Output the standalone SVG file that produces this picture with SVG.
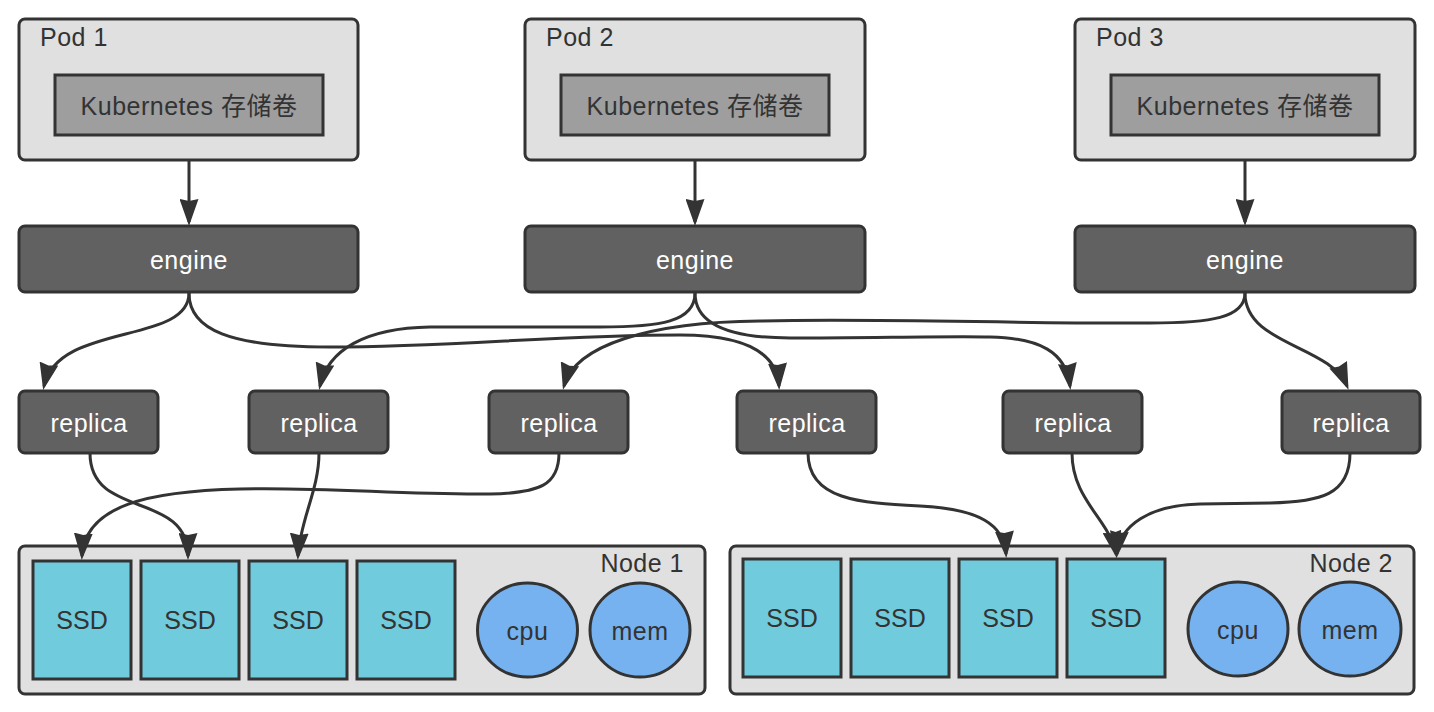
<svg xmlns="http://www.w3.org/2000/svg" width="1434" height="712" viewBox="0 0 1434 712">
<style>
text{font-family:"Liberation Sans","Noto Sans CJK SC",sans-serif;font-size:25px;letter-spacing:0.5px}
.pod{fill:#e0e0e0;stroke:#333;stroke-width:3}
.vol{fill:#9e9e9e;stroke:#333;stroke-width:3}
.dark{fill:#616161;stroke:#333;stroke-width:3}
.node{fill:#e0e0e0;stroke:#333;stroke-width:3}
.ssd{fill:#70cbdd;stroke:#333;stroke-width:3}
.res{fill:#75b2ef;stroke:#333;stroke-width:3}
.lbl{fill:#333}
.wt{fill:#fff;text-anchor:middle}
.ct{fill:#333;text-anchor:middle}
.tight{letter-spacing:0}
.edge{fill:none;stroke:#333;stroke-width:3;marker-end:url(#arr)}
</style>
<defs>
<marker id="arr" viewBox="0 0 27 19" markerWidth="27" markerHeight="19" refX="23" refY="9.5" markerUnits="userSpaceOnUse" orient="auto">
<path d="M0,0 L27,9.5 L0,19 L2,9.5 Z" fill="#333"/>
</marker>
</defs>
<rect width="1434" height="712" fill="#fff"/>

<g id="pod1"><rect class="pod" x="19" y="19" width="339" height="141" rx="6"/><text class="lbl" x="40" y="46">Pod 1</text></g>
<g id="vol1"><rect class="vol" x="55" y="75" width="268" height="60"/><text class="ct" x="189" y="115">Kubernetes 存储卷</text></g>
<g id="pod2"><rect class="pod" x="525" y="19" width="340" height="141" rx="6"/><text class="lbl" x="546" y="46">Pod 2</text></g>
<g id="vol2"><rect class="vol" x="561" y="75" width="268" height="60"/><text class="ct" x="695" y="115">Kubernetes 存储卷</text></g>
<g id="pod3"><rect class="pod" x="1075" y="19" width="340" height="141" rx="6"/><text class="lbl" x="1096" y="46">Pod 3</text></g>
<g id="vol3"><rect class="vol" x="1111" y="75" width="268" height="60"/><text class="ct" x="1245" y="115">Kubernetes 存储卷</text></g>

<g id="engine1"><rect class="dark" x="19" y="226" width="339" height="66" rx="6"/><text class="wt" x="189" y="269">engine</text></g>
<g id="engine2"><rect class="dark" x="525" y="226" width="340" height="66" rx="6"/><text class="wt" x="695" y="269">engine</text></g>
<g id="engine3"><rect class="dark" x="1075" y="226" width="340" height="66" rx="6"/><text class="wt" x="1245" y="269">engine</text></g>

<g id="replica1"><rect class="dark" x="19" y="391" width="139" height="62" rx="6"/><text class="wt" x="89" y="432">replica</text></g>
<g id="replica2"><rect class="dark" x="249" y="391" width="139" height="62" rx="6"/><text class="wt" x="319" y="432">replica</text></g>
<g id="replica3"><rect class="dark" x="489" y="391" width="139" height="62" rx="6"/><text class="wt" x="559" y="432">replica</text></g>
<g id="replica4"><rect class="dark" x="737" y="391" width="139" height="62" rx="6"/><text class="wt" x="807" y="432">replica</text></g>
<g id="replica5"><rect class="dark" x="1003" y="391" width="139" height="62" rx="6"/><text class="wt" x="1073" y="432">replica</text></g>
<g id="replica6"><rect class="dark" x="1282" y="391" width="138" height="62" rx="6"/><text class="wt" x="1351" y="432">replica</text></g>

<g id="node1">
<rect class="node" x="19" y="546" width="686" height="148" rx="6"/>
<text class="lbl" x="684" y="572" text-anchor="end">Node 1</text>
</g>
<g id="n1ssd1"><rect class="ssd" x="33" y="561" width="98" height="118"/><text class="ct tight" x="82" y="629">SSD</text></g>
<g id="n1ssd2"><rect class="ssd" x="141" y="561" width="98" height="118"/><text class="ct tight" x="190" y="629">SSD</text></g>
<g id="n1ssd3"><rect class="ssd" x="249" y="561" width="98" height="118"/><text class="ct tight" x="298" y="629">SSD</text></g>
<g id="n1ssd4"><rect class="ssd" x="357" y="561" width="98" height="118"/><text class="ct tight" x="406" y="629">SSD</text></g>
<g id="n1cpu"><ellipse class="res" cx="527.5" cy="630" rx="50" ry="47"/><text class="ct" x="527.5" y="640">cpu</text></g>
<g id="n1mem"><ellipse class="res" cx="640" cy="630" rx="50" ry="47"/><text class="ct" x="640" y="640">mem</text></g>

<g id="node2">
<rect class="node" x="730" y="546" width="684" height="148" rx="6"/>
<text class="lbl" x="1393" y="572" text-anchor="end">Node 2</text>
</g>
<g id="n2ssd1"><rect class="ssd" x="743" y="559" width="98" height="118"/><text class="ct tight" x="792" y="627">SSD</text></g>
<g id="n2ssd2"><rect class="ssd" x="851" y="559" width="98" height="118"/><text class="ct tight" x="900" y="627">SSD</text></g>
<g id="n2ssd3"><rect class="ssd" x="959" y="559" width="98" height="118"/><text class="ct tight" x="1008" y="627">SSD</text></g>
<g id="n2ssd4"><rect class="ssd" x="1067" y="559" width="98" height="118"/><text class="ct tight" x="1116" y="627">SSD</text></g>
<g id="n2cpu"><ellipse class="res" cx="1238" cy="629" rx="50" ry="47"/><text class="ct" x="1238" y="639">cpu</text></g>
<g id="n2mem"><ellipse class="res" cx="1350" cy="629" rx="51" ry="47"/><text class="ct" x="1350" y="639">mem</text></g>

<g id="connectors">
<path class="edge" d="M189,161 L189,222"/>
<path class="edge" d="M695,161 L695,222"/>
<path class="edge" d="M1245,161 L1245,222"/>

<path class="edge" d="M189,293 C189,345 58,322 44,386"/>
<path class="edge" d="M189,293 C189,330 230,347 330,347 C450,347 560,335 680,335 C750,335 777,355 779,386"/>
<path class="edge" d="M695,293 C695,322 660,327 600,327 L430,327 C365,328 328,350 320,386"/>
<path class="edge" d="M695,293 C695,325 730,338 790,338 C870,338 950,336 990,337 C1040,338 1066,352 1070,386"/>
<path class="edge" d="M1245,293 C1245,318 1210,323 1150,323 C1020,324 880,318 760,321 C650,322 575,345 564,386"/>
<path class="edge" d="M1245,293 C1245,345 1330,345 1347,386"/>

<path class="edge" d="M90,453 C90,520 188,490 188,556"/>
<path class="edge" d="M319,453 C319,490 300,520 298,556"/>
<path class="edge" d="M559,453 C559,485 540,493 490,494 C400,495 330,487 240,489 C150,491 85,505 82,556"/>
<path class="edge" d="M808,453 C808,500 860,503 920,506 C980,509 1004,525 1006,554"/>
<path class="edge" d="M1072,453 C1072,500 1110,520 1116,554"/>
<path class="edge" d="M1350,453 C1350,495 1320,502 1270,503 L1200,504 C1150,505 1120,525 1117,554"/>
</g>
</svg>
